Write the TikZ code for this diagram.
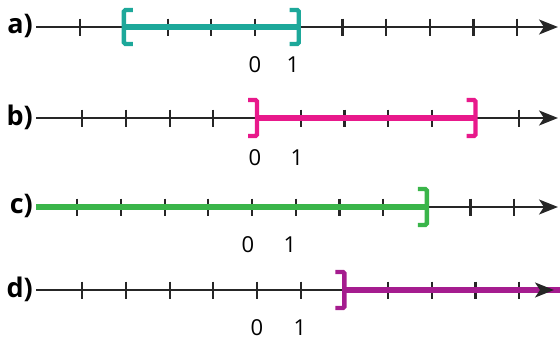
\documentclass[tikz,border=0pt]{standalone}
\usepackage{fontspec}
\setmainfont{Open Sans}
\usetikzlibrary{arrows.meta}
\definecolor{tealc}{HTML}{1DA89A}
\definecolor{pinkc}{HTML}{E8198B}
\definecolor{greenc}{HTML}{3AB54A}
\definecolor{purplec}{HTML}{A51C8F}
\begin{document}
\begin{tikzpicture}[x=1pt,y=-1pt,
  axis/.style={line width=2pt, black!85},
  tickmark/.style={line width=2.2pt, black!85},
  band/.style={line width=5.5pt},
  brk/.style={line width=4.4pt, rounded corners=1.5pt},
  arr/.style={-{Stealth[length=19pt,width=15pt,inset=5pt]}},
  lab/.style={font=\fontsize{27}{27}\selectfont\bfseries, anchor=east, inner sep=0pt},
  num/.style={font=\fontsize{22}{22}\selectfont, inner sep=0pt}]
\useasboundingbox (0,0) rectangle (560,341);
% ---------- a ----------
\node[lab] (la) at (33,26) {a)};
\coordinate (a0) at (36,27); \coordinate (a1) at (558,27);
\draw[axis,arr] (a0) -- (a1);
\foreach \k in {-4,-2,-1,0,2,3,4,5,6} \draw[tickmark] (255+43.7*\k,18.5) -- ++(0,17);
\coordinate (aL) at (255-3*43.7,27); \coordinate (aR) at (255+43.7,27);
\draw[band,tealc] (aL) -- (aR);
\draw[brk,tealc] ([shift={(9,-17)}]aL) -- ++(-9,0) -- ++(0,34) -- ++(9,0);
\draw[brk,tealc] ([shift={(-9,-17)}]aR) -- ++(9,0) -- ++(0,34) -- ++(-9,0);
\node[num] (a0l) at (255,65) {0};
\node[num] (a1l) at (293,65) {1};
% ---------- b ----------
\node[lab] (lb) at (33,117) {b)};
\coordinate (b0) at (36,118); \coordinate (b1) at (558,118);
\draw[axis,arr] (b0) -- (b1);
\foreach \k in {-4,-3,-2,-1,1,2,3,4,6} \draw[tickmark] (257+43.7*\k,109.5) -- ++(0,17);
\coordinate (bL) at (257,118); \coordinate (bR) at (257+5*43.7,118);
\draw[band,pinkc] (bL) -- (bR);
\draw[brk,pinkc] ([shift={(-9,-18)}]bL) -- ++(9,0) -- ++(0,36) -- ++(-9,0);
\draw[brk,pinkc] ([shift={(-9,-18)}]bR) -- ++(9,0) -- ++(0,36) -- ++(-9,0);
\node[num] (b0l) at (255,158) {0};
\node[num] (b1l) at (297,158) {1};
% ---------- c ----------
\node[lab] (lc) at (33,206) {c)};
\coordinate (c0) at (36,207); \coordinate (c1) at (558,207);
\draw[axis,arr] (c0) -- (c1);
\foreach \k in {-4,-3,-2,-1,0,1,2,3,5,6} \draw[tickmark] (252+43.7*\k,198.5) -- ++(0,17);
\coordinate (cR) at (252+4*43.7,207);
\draw[band,greenc] (c0) -- (cR);
\draw[brk,greenc] ([shift={(-9,-18)}]cR) -- ++(9,0) -- ++(0,36) -- ++(-9,0);
\node[num] (c0l) at (248,245) {0};
\node[num] (c1l) at (290,245) {1};
% ---------- d ----------
\node[lab] (ld) at (33,289) {d)};
\coordinate (d0) at (36,290); \coordinate (dE) at (560,290);
\coordinate (dL) at (257+2*43.7,290);
\draw[axis] (d0) -- (dL);
\foreach \k in {-4,-3,-2,-1,0,1,3,4,5,6} \draw[tickmark] (257+43.7*\k,281.5) -- ++(0,17);
\draw[band,purplec] (dL) -- (dE);
\coordinate (dA) at (545,290); \coordinate (dB) at (554,290);
\draw[axis,arr] (dA) -- (dB);
\draw[brk,purplec] ([shift={(-9,-18)}]dL) -- ++(9,0) -- ++(0,36) -- ++(-9,0);
\node[num] (d0l) at (257,328) {0};
\node[num] (d1l) at (300,328) {1};
\end{tikzpicture}
\end{document}
